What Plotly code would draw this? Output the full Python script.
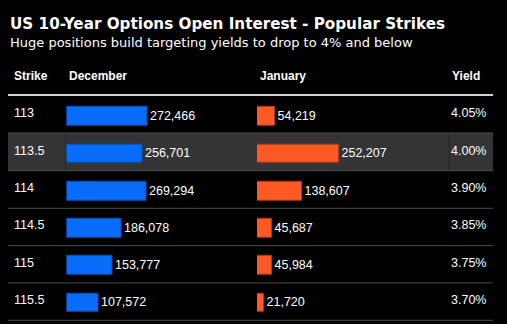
import plotly.graph_objects as go

# Data
strikes = ["113", "113.5", "114", "114.5", "115", "115.5"]
december = [272466, 256701, 269294, 186078, 153777, 107572]
january = [54219, 252207, 138607, 45687, 45984, 21720]
yields = ["4.05%", "4.00%", "3.90%", "3.85%", "3.75%", "3.70%"]
columns = ["Strike", "December", "January", "Yield"]
highlight_row = 1

title = "US 10-Year Options Open Interest - Popular Strikes"
subtitle = "Huge positions build targeting yields to drop to 4% and below"

W, H = 507, 324


def px(x):
    return x / W


def py(y):
    return 1 - y / H


BLUE = "#0a6cfb"
BLUE_EDGE = "#0a4fb0"
ORANGE = "#ff5a26"
ORANGE_EDGE = "#a83a12"
TXT_FONT = "Liberation Sans, Arial, sans-serif"

rows = list(range(len(strikes)))

fig = go.Figure()

fig.add_trace(go.Bar(
    x=december, y=rows, orientation="h", xaxis="x", yaxis="y",
    width=0.5,
    marker=dict(color=BLUE, line=dict(color=BLUE_EDGE, width=1)),
    texttemplate="%{x:,}", textposition="outside",
    outsidetextfont=dict(color="white", size=12.5, family=TXT_FONT),
    cliponaxis=False, hoverinfo="skip", showlegend=False,
))
fig.add_trace(go.Bar(
    x=january, y=rows, orientation="h", xaxis="x2", yaxis="y",
    width=0.5,
    marker=dict(color=ORANGE, line=dict(color=ORANGE_EDGE, width=1)),
    texttemplate="%{x:,}", textposition="outside",
    outsidetextfont=dict(color="white", size=12.5, family=TXT_FONT),
    cliponaxis=False, hoverinfo="skip", showlegend=False,
))

shapes = []
# highlighted row band
row_lines = [95, 133, 170.7, 208.3, 245.6, 282.9, 320.3]
top, bot = row_lines[highlight_row], row_lines[highlight_row + 1]
shapes.append(dict(type="rect", xref="paper", yref="paper",
                   x0=px(8), x1=px(493), y0=py(bot), y1=py(top),
                   fillcolor="#343434", line=dict(width=0), layer="below"))
for xd in (66, 449):
    shapes.append(dict(type="line", xref="paper", yref="paper",
                       x0=px(xd), x1=px(xd), y0=py(bot), y1=py(top),
                       line=dict(color="#262626", width=1), layer="below"))
# header rule
shapes.append(dict(type="line", xref="paper", yref="paper",
                   x0=px(8), x1=px(493), y0=py(95), y1=py(95),
                   line=dict(color="#d2d2d2", width=2)))
# row separators
for yl in row_lines[1:]:
    shapes.append(dict(type="line", xref="paper", yref="paper",
                       x0=px(8), x1=px(493), y0=py(yl), y1=py(yl),
                       line=dict(color="#4a4a4a", width=1), layer="below"))

annotations = [
    dict(text=f"<b>{title}</b>", x=px(8), y=py(24), xref="paper", yref="paper",
         xanchor="left", yanchor="middle", showarrow=False,
         font=dict(family="DejaVu Sans, Verdana, sans-serif", size=15.2, color="white")),
    dict(text=subtitle, x=px(8), y=py(42.5), xref="paper", yref="paper",
         xanchor="left", yanchor="middle", showarrow=False,
         font=dict(family="DejaVu Sans, Verdana, sans-serif", size=13, color="white")),
]
header_x = [12, 67, 258, 450]
for name, hx in zip(columns, header_x):
    annotations.append(dict(text=f"<b>{name}</b>", x=px(hx), y=py(76), xref="paper",
                            yref="paper", xanchor="left", yanchor="middle",
                            showarrow=False,
                            font=dict(family=TXT_FONT, size=12, color="white")))
for i in rows:
    annotations.append(dict(text=strikes[i], x=px(12), y=i, xref="paper", yref="y",
                            xanchor="left", yanchor="middle", yshift=3,
                            showarrow=False,
                            font=dict(family=TXT_FONT, size=12.5, color="white")))
    annotations.append(dict(text=yields[i], x=px(449), y=i, xref="paper", yref="y",
                            xanchor="left", yanchor="middle", yshift=3,
                            showarrow=False,
                            font=dict(family=TXT_FONT, size=12.5, color="white")))

y_top_px, y_bot_px = 97.76, 321.44

fig.update_layout(
    width=W, height=H,
    margin=dict(l=0, r=0, t=0, b=0),
    paper_bgcolor="black", plot_bgcolor="rgba(0,0,0,0)",
    xaxis=dict(domain=[px(66.5), px(256)], range=[0, 640000], visible=False,
               fixedrange=True),
    xaxis2=dict(domain=[px(257), px(449)], range=[0, 594000], visible=False,
                anchor="y", fixedrange=True),
    yaxis=dict(domain=[py(y_bot_px), py(y_top_px)], range=[5.5, -0.5],
               visible=False, fixedrange=True),
    shapes=shapes, annotations=annotations,
    bargap=0,
)

fig.write_html("out.html", config={"displayModeBar": False})
